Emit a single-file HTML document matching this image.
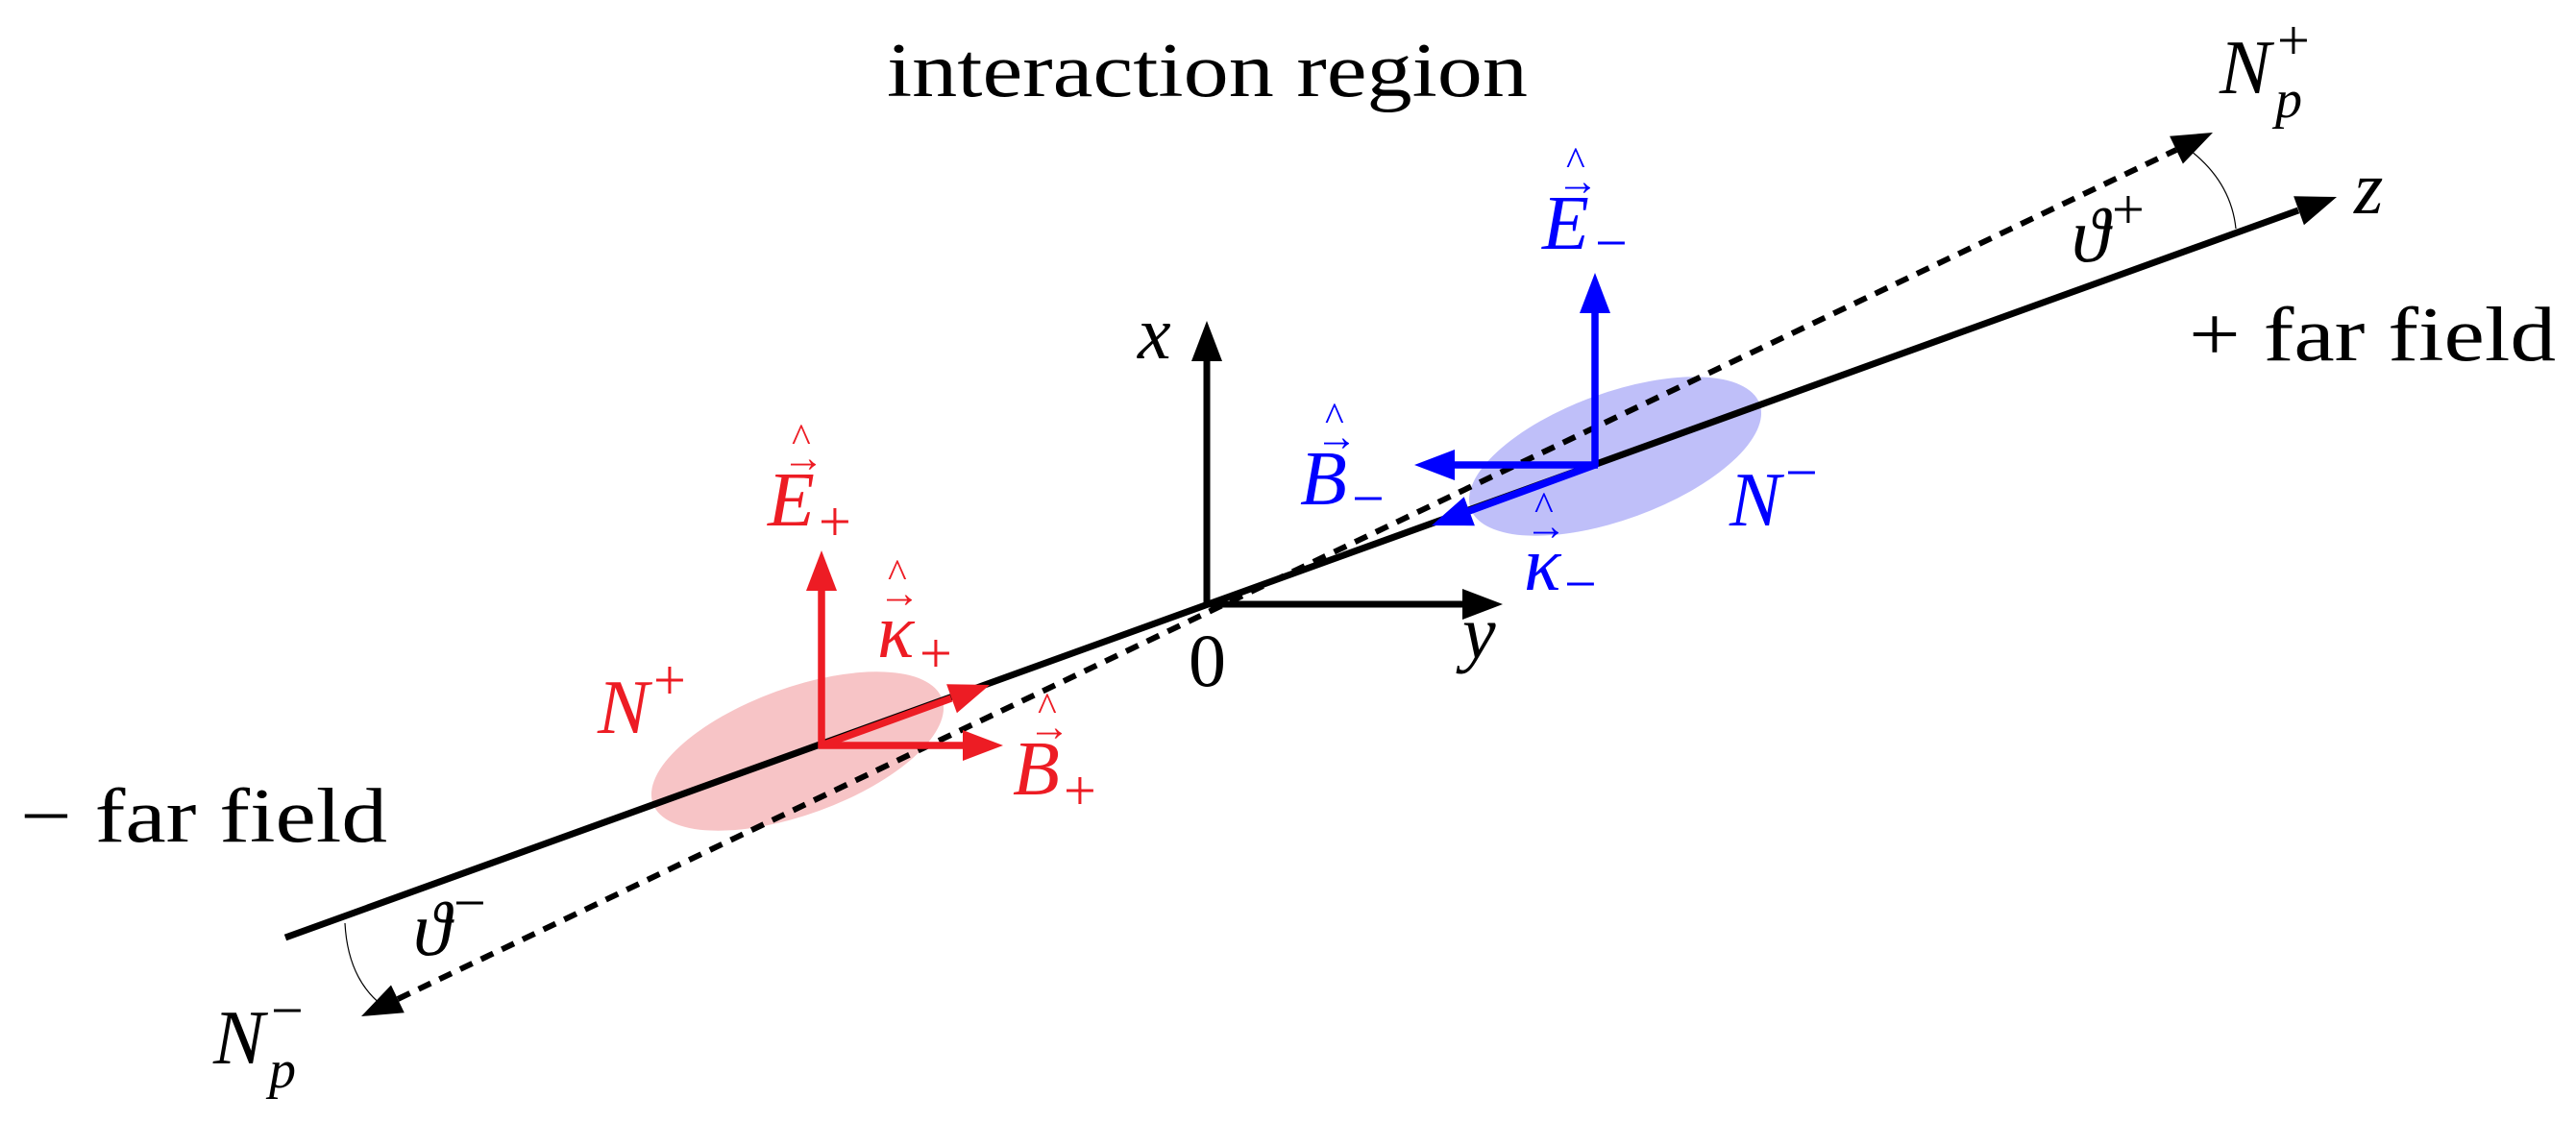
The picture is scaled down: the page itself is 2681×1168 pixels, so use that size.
<!DOCTYPE html>
<html><head><style>html,body{margin:0;padding:0;background:#fff;overflow:hidden}svg{display:block}
text{font-family:"Liberation Serif","DejaVu Serif",serif}
.m{font-style:italic}
</style></head><body>
<svg width="2681" height="1168" viewBox="0 0 2681 1168" xmlns="http://www.w3.org/2000/svg">
<ellipse cx="830" cy="782" rx="160" ry="66" transform="rotate(-20 830 782)" fill="#f7c4c6"/>
<ellipse cx="1681" cy="475" rx="160" ry="66" transform="rotate(-20 1681 475)" fill="#bfbff9"/>
<line x1="297" y1="976" x2="2392" y2="219" stroke="#000" stroke-width="7"/>
<polygon points="2432,205 2397.9,234.3 2387.1,204.3" fill="#000"/>
<line x1="414" y1="1040" x2="2265" y2="156" stroke="#000" stroke-width="6" stroke-dasharray="14,10"/>
<polygon points="2303,138 2271.9,170.5 2258.1,141.7" fill="#000"/>
<polygon points="376,1058 420.8,1054.3 407,1025.5" fill="#000"/>
<path d="M2280,157 Q2322,190 2327,238" fill="none" stroke="#000" stroke-width="1.2"/>
<path d="M359,961 Q362,1018 397,1046" fill="none" stroke="#000" stroke-width="1.2"/>
<line x1="1256" y1="632" x2="1256" y2="376" stroke="#000" stroke-width="7"/>
<polygon points="1256,334 1240,376 1272,376" fill="#000"/>
<line x1="1253" y1="629" x2="1522" y2="629" stroke="#000" stroke-width="7"/>
<polygon points="1564,629 1522,613 1522,645" fill="#000"/>
<g stroke="#ed1c24" stroke-width="7.5" fill="none">
<line x1="855" y1="779" x2="855" y2="615"/>
<line x1="852" y1="776" x2="1002" y2="776"/>
<line x1="855" y1="776" x2="990" y2="727"/>
</g>
<g fill="#ed1c24">
<polygon points="855,573 839,615 871,615"/>
<polygon points="1044,776 1002,760 1002,792"/>
<polygon points="1030,713 995.9,742.2 985.1,712.2"/>
</g>
<g stroke="#0000ff" stroke-width="7.5" fill="none">
<line x1="1660" y1="486" x2="1660" y2="326"/>
<line x1="1663" y1="484" x2="1514" y2="484"/>
<line x1="1660" y1="484" x2="1529" y2="532"/>
</g>
<g fill="#0000ff">
<polygon points="1660,284 1644,326 1676,326"/>
<polygon points="1472,484 1514,468 1514,500"/>
<polygon points="1490,547 1534.9,547.2 1523.7,517.2"/>
</g>
<text x="923" y="100" font-size="80" textLength="667" lengthAdjust="spacingAndGlyphs">interaction region</text>
<text x="21" y="876" font-size="80" textLength="382" lengthAdjust="spacingAndGlyphs">− far field</text>
<text x="2278" y="375" font-size="80" textLength="382" lengthAdjust="spacingAndGlyphs">+ far field</text>
<text x="1237" y="714" font-size="78">0</text>
<text x="1184" y="373" font-size="78" class="m">x</text>
<text x="1522" y="685" font-size="78" class="m">y</text>
<text x="2450" y="222" font-size="78" class="m">z</text>
<text x="2310" y="97" font-size="80" class="m">N</text>
<text x="2368" y="122" font-size="56" class="m">p</text>
<text x="2370" y="62" font-size="60">+</text>
<text x="222" y="1107" font-size="80" class="m">N</text>
<text x="280" y="1132" font-size="56" class="m">p</text>
<text x="282" y="1072" font-size="60">−</text>
<text x="2156" y="272" font-size="80" class="m">ϑ</text>
<text x="2198" y="238" font-size="60">+</text>
<text x="430" y="994" font-size="80" class="m">ϑ</text>
<text x="472" y="960" font-size="60">−</text>
<g fill="#ed1c24">
<text x="799" y="547" font-size="80" class="m">E</text>
<text x="852" y="563" font-size="60">+</text>
<text x="814" y="491" font-size="44">→</text>
<text x="824" y="470" font-size="42">^</text>
<text x="913" y="684" font-size="80" class="m">κ</text>
<text x="957" y="700" font-size="60">+</text>
<text x="914" y="632" font-size="44">→</text>
<text x="924" y="611" font-size="42">^</text>
<text x="622" y="763" font-size="80" class="m">N</text>
<text x="680" y="728" font-size="60">+</text>
<text x="1054" y="827" font-size="80" class="m">B</text>
<text x="1107" y="843" font-size="60">+</text>
<text x="1070" y="771" font-size="44">→</text>
<text x="1080" y="750" font-size="42">^</text>
</g>
<g fill="#0000ff">
<text x="1605" y="259" font-size="80" class="m">E</text>
<text x="1660" y="273" font-size="60">−</text>
<text x="1620" y="203" font-size="44">→</text>
<text x="1630" y="182" font-size="42">^</text>
<text x="1353" y="525" font-size="80" class="m">B</text>
<text x="1407" y="539" font-size="60">−</text>
<text x="1369" y="469" font-size="44">→</text>
<text x="1379" y="448" font-size="42">^</text>
<text x="1586" y="614" font-size="80" class="m">κ</text>
<text x="1628" y="628" font-size="60">−</text>
<text x="1587" y="562" font-size="44">→</text>
<text x="1597" y="541" font-size="42">^</text>
<text x="1800" y="547" font-size="80" class="m">N</text>
<text x="1858" y="512" font-size="60">−</text>
</g>
</svg>
</body></html>
